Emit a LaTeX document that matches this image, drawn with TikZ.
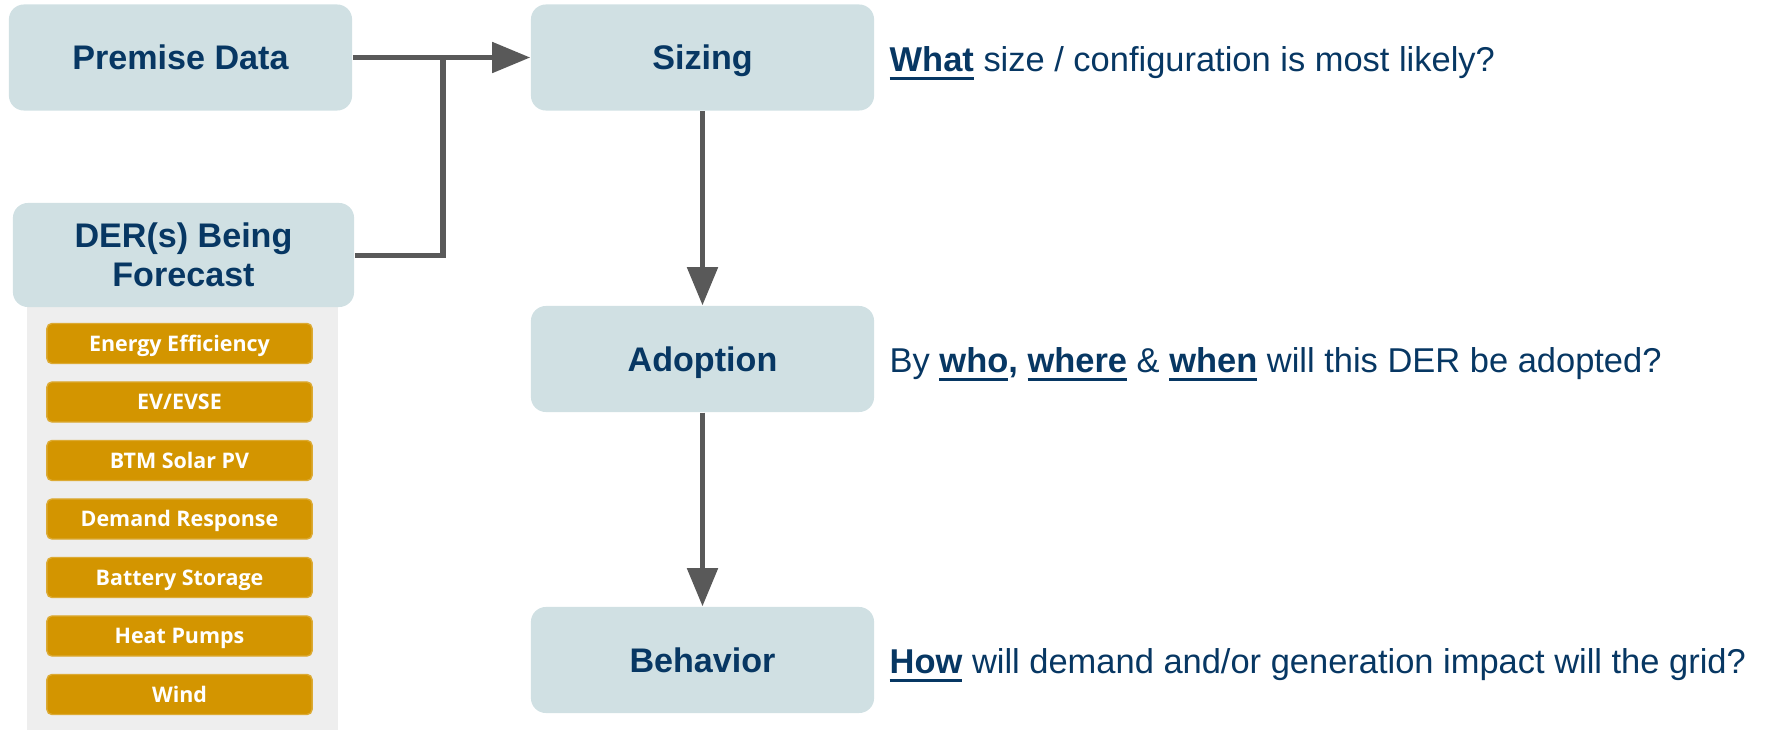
\documentclass[tikz,border=0pt]{standalone}
\usepackage{fontspec}
\setmainfont{Liberation Sans}
\newfontfamily\tagfont{Open Sans}
\usetikzlibrary{arrows.meta,positioning}
\definecolor{navy}{HTML}{073763}
\definecolor{stagefill}{HTML}{D0E0E3}
\definecolor{derorange}{HTML}{D39500}
\definecolor{panelgray}{HTML}{EEEEEE}
\definecolor{arrowgray}{HTML}{595959}
\newcommand{\keyword}[1]{\setbox0\hbox{\bfseries #1}\rlap{\rule[-0.085cm]{\wd0}{0.03cm}}\box0\relax}
\tikzset{
stage/.style={fill=stagefill, rounded corners=0.15cm, minimum width=3.43cm, minimum height=1.06cm, inner sep=0pt,
    text=navy, align=center, font=\fontsize{9.7}{11.2}\selectfont\bfseries},
oneline/.style={text height=7pt, text depth=0pt},
dertag/.style={fill=derorange, draw=derorange!80!white, rounded corners=0.05cm, minimum width=2.65cm, minimum height=0.40cm,
    inner sep=0pt, text=white, text height=4.4pt, text depth=0pt, font=\tagfont\fontsize{6.1}{7}\selectfont\bfseries},
question/.style={anchor=west, inner sep=0pt, text height=7pt, text depth=0pt, text=navy, font=\fontsize{9.8}{11.2}\selectfont},
arr/.style={-{Triangle[length=0.38cm,width=0.3cm]}, line width=0.05cm, arrowgray},
link/.style={line width=0.05cm, arrowgray},
}

\begin{document}
\begin{tikzpicture}[x=0.01cm,y=-0.01cm]
    \useasboundingbox (0,0) rectangle (1768,730);
    \fill[panelgray] (27,307) rectangle (338,730);

    \node[stage, oneline] (premise) at (180.5,57.5) {Premise Data};
    \node[stage, minimum width=3.41cm, minimum height=1.04cm] (der) at (183.5,255) {DER(s) Being\\Forecast};
    \node[stage, oneline] (sizing) at (702.5,57.5) {Sizing};
    \node[stage, oneline] (adoption) at (702.5,359) {Adoption};
    \node[stage, oneline] (behavior) at (702.5,660) {Behavior};

    \foreach \name [count=\i] in {Energy Efficiency, EV/EVSE, BTM Solar PV, Demand Response, Battery Storage, Heat Pumps, Wind}
        \node[dertag] (tag\i) at (179.5,285+58.5*\i) {\name};

    \node[question] (qsizing) at (889,59) {\keyword{What} size / configuration is most likely?};
    \node[question] (qadoption) at (889,360.5) {By \keyword{who}\textbf{,} \keyword{where} \& \keyword{when} will this DER be adopted?};
    \node[question] (qbehavior) at (889,661.5) {\keyword{How} will demand and/or generation impact will the grid?};

    \coordinate (join) at (443,57.5);
    \draw[arr] (premise) -- (sizing);
    \draw[link] (der.east) -| (join);
    \draw[arr] (sizing) -- (adoption);
    \draw[arr] (adoption) -- (behavior);
\end{tikzpicture}
\end{document}
